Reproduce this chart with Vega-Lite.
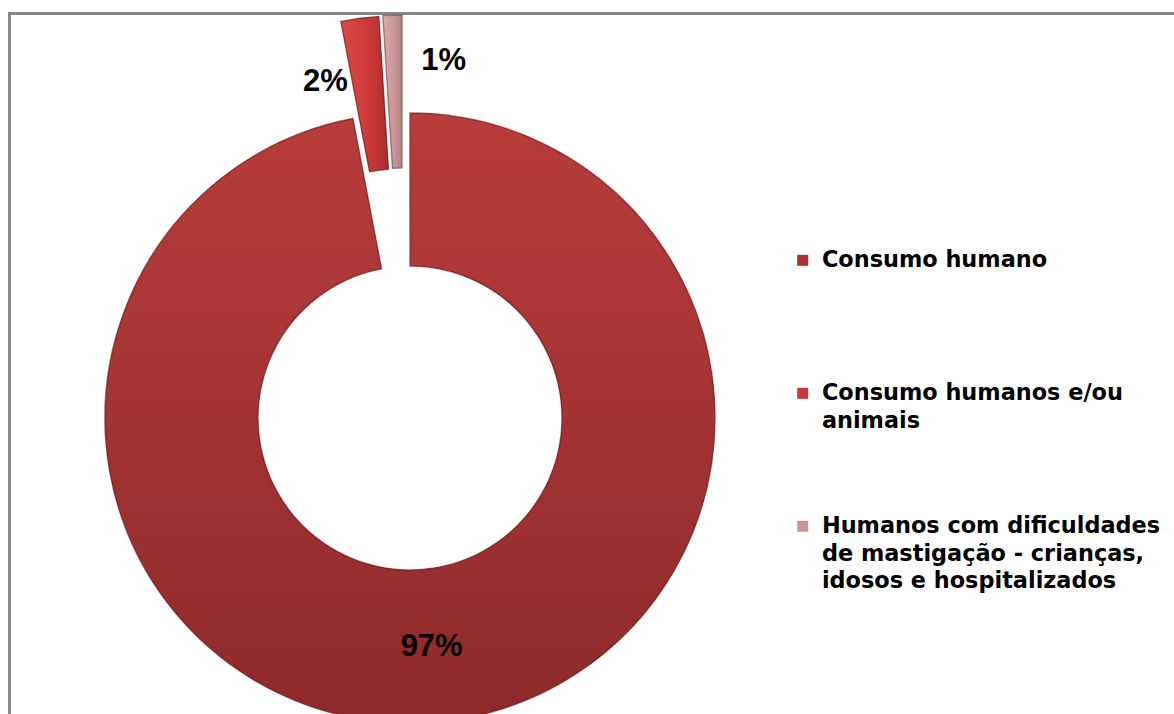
{
  "$schema": "https://vega.github.io/schema/vega-lite/v6.json",
  "width": 1180,
  "height": 720,
  "padding": {"left": 9.5, "top": 13.5, "right": 0, "bottom": 0},
  "autosize": {"type": "none"},
  "background": "white",
  "config": {
    "view": {"stroke": "#878787", "strokeWidth": 3},
    "style": {"guide-label": {"lineHeight": 27.6}}
  },
  "data": {
    "values": [
      {"uso": "Consumo humano", "frac": 0.97},
      {"uso": "Consumo humanos e/ou animais", "frac": 0.02},
      {"uso": "Humanos com dificuldades de mastigação - crianças, idosos e hospitalizados", "frac": 0.01}
    ]
  },
  "transform": [
    {"stack": "frac", "groupby": [], "sort": [{"field": "frac", "order": "descending"}], "as": ["p0", "p1"]}
  ],
  "encoding": {
    "x": {"value": 400.5},
    "y": {"value": 404.5}
  },
  "layer": [
    {
      "transform": [{"filter": {"field": "uso", "equal": "Consumo humano"}}],
      "encoding": {
        "theta": {"field": "p0", "type": "quantitative", "scale": {"domain": [0, 1]}},
        "theta2": {"field": "p1"}
      },
      "layer": [
        {
          "mark": {"type": "arc", "radius": 305, "radius2": 152},
          "encoding": {
            "color": {
              "field": "uso",
              "type": "nominal",
              "scale": {
                "domain": [
                  "Consumo humano",
                  "Consumo humanos e/ou animais",
                  "Humanos com dificuldades de mastigação - crianças, idosos e hospitalizados"
                ],
                "range": ["#A83434", "#CC3838", "#C99597"]
              },
              "legend": {
                "title": null,
                "orient": "none",
                "legendX": 782,
                "legendY": 208,
                "padding": 0,
                "rowPadding": 0,
                "symbolType": "M-1,4.02L1,4.02L1,6.02L-1,6.02Z",
                "symbolSize": 121,
                "symbolStrokeWidth": 0,
                "labelOffset": 8,
                "labelFont": "DejaVu Sans",
                "labelFontSize": 22.4,
                "labelFontWeight": "bold",
                "labelColor": "#000000",
                "labelLimit": 500,
                "labelBaseline": "middle",
                "labelExpr": "datum.label == 'Consumo humano' ? ['\u00a0', '\u00a0', 'Consumo humano', '\u00a0', '\u00a0'] : datum.label == 'Consumo humanos e/ou animais' ? ['\u00a0', '\u00a0', 'Consumo humanos e/ou', 'animais', '\u00a0'] : ['\u00a0', '\u00a0', 'Humanos com dificuldades', 'de mastigação - crianças,', 'idosos e hospitalizados']"
              }
            }
          }
        },
        {
          "mark": {
            "type": "arc",
            "radius": 305,
            "radius2": 152,
            "stroke": "#6a1c1c",
            "strokeOpacity": 0.6,
            "strokeWidth": 1.5,
            "fill": {
              "gradient": "linear",
              "x1": 0, "y1": 0, "x2": 0, "y2": 1,
              "stops": [
                {"offset": 0, "color": "#B83D3B"},
                {"offset": 0.5, "color": "#A43333"},
                {"offset": 1, "color": "#8E2A2A"}
              ]
            }
          }
        }
      ]
    },
    {
      "transform": [{"filter": {"field": "uso", "equal": "Consumo humanos e/ou animais"}}],
      "encoding": {
        "theta": {"field": "p0", "type": "quantitative"},
        "theta2": {"field": "p1"}
      },
      "layer": [
        {
          "mark": {"type": "arc", "radius": 305, "radius2": 152, "xOffset": -12, "yOffset": -97},
          "encoding": {"color": {"field": "uso", "type": "nominal"}}
        },
        {
          "mark": {
            "type": "arc",
            "radius": 305,
            "radius2": 152,
            "xOffset": -12,
            "yOffset": -97,
            "stroke": "#6a1c1c",
            "strokeOpacity": 0.6,
            "strokeWidth": 1.5,
            "fill": {
              "gradient": "linear",
              "x1": 0, "y1": 0, "x2": 1, "y2": 0,
              "stops": [
                {"offset": 0, "color": "#E04848"},
                {"offset": 0.6, "color": "#CC3838"},
                {"offset": 1, "color": "#A82E2E"}
              ]
            }
          }
        }
      ]
    },
    {
      "transform": [{"filter": {"field": "uso", "equal": "Humanos com dificuldades de mastigação - crianças, idosos e hospitalizados"}}],
      "encoding": {
        "theta": {"field": "p0", "type": "quantitative"},
        "theta2": {"field": "p1"}
      },
      "layer": [
        {
          "mark": {"type": "arc", "radius": 305, "radius2": 152, "xOffset": -8, "yOffset": -98},
          "encoding": {"color": {"field": "uso", "type": "nominal"}}
        },
        {
          "mark": {
            "type": "arc",
            "radius": 305,
            "radius2": 152,
            "xOffset": -8,
            "yOffset": -98,
            "stroke": "#7a4a4c",
            "strokeOpacity": 0.6,
            "strokeWidth": 1.5,
            "fill": {
              "gradient": "linear",
              "x1": 0, "y1": 0, "x2": 1, "y2": 0,
              "stops": [
                {"offset": 0, "color": "#DDA9AB"},
                {"offset": 0.6, "color": "#C99597"},
                {"offset": 1, "color": "#B08083"}
              ]
            }
          }
        }
      ]
    },
    {
      "mark": {"type": "text", "radius": 230, "font": "Liberation Sans", "fontSize": 31, "fontWeight": "bold", "color": "#000000", "align": "center", "baseline": "middle"},
      "encoding": {
        "theta": {"field": "frac", "type": "quantitative", "stack": true},
        "order": {"field": "frac", "sort": "descending"},
        "text": {"condition": {"test": "datum.uso == 'Consumo humano'", "field": "frac", "type": "quantitative", "format": ".0%"}, "value": ""}
      }
    },
    {
      "mark": {"type": "text", "radius": 347, "dx": -41, "dy": 8, "font": "Liberation Sans", "fontSize": 31, "fontWeight": "bold", "color": "#000000", "align": "center", "baseline": "middle"},
      "encoding": {
        "theta": {"field": "frac", "type": "quantitative", "stack": true},
        "order": {"field": "frac", "sort": "descending"},
        "text": {"condition": {"test": "datum.uso == 'Consumo humanos e/ou animais'", "field": "frac", "type": "quantitative", "format": ".0%"}, "value": ""}
      }
    },
    {
      "mark": {"type": "text", "radius": 358, "dx": 45, "dy": 1, "font": "Liberation Sans", "fontSize": 31, "fontWeight": "bold", "color": "#000000", "align": "center", "baseline": "middle"},
      "encoding": {
        "theta": {"field": "frac", "type": "quantitative", "stack": true},
        "order": {"field": "frac", "sort": "descending"},
        "text": {"condition": {"test": "indexof(datum.uso, 'Humanos com') == 0", "field": "frac", "type": "quantitative", "format": ".0%"}, "value": ""}
      }
    }
  ]
}
